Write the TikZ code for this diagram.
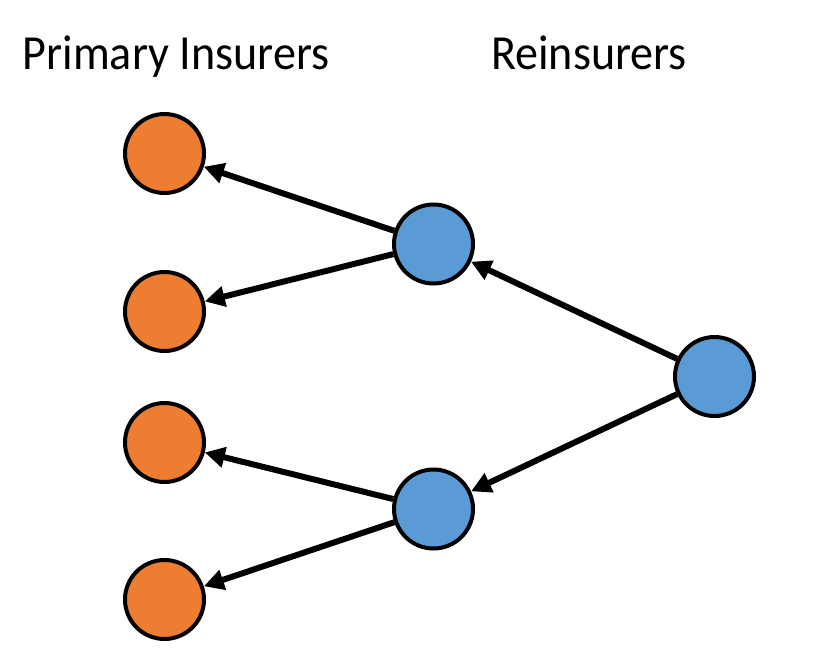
\documentclass[tikz,border=0pt]{standalone}
\usepackage{fontspec}
\setmainfont{Carlito}
\usetikzlibrary{arrows.meta}
\definecolor{orng}{HTML}{ED7D31}
\definecolor{blu}{HTML}{5B9BD5}
\begin{document}
\begin{tikzpicture}[x=1pt,y=-1pt,
  pnode/.style={circle,draw=black,line width=4pt,fill=orng,minimum size=79pt,inner sep=0pt},
  rnode/.style={circle,draw=black,line width=4pt,fill=blu,minimum size=79pt,inner sep=0pt},
  conn/.style={line width=6pt,-{Triangle[length=20pt,width=20pt]}},
  lbl/.style={font=\fontsize{49}{60}\selectfont,anchor=base}]
\useasboundingbox (0,0) rectangle (830,664);
\node[lbl] (tp) at (176,69) {\scalebox{0.94}[1]{Primary Insurers}};
\node[lbl] (tr) at (589,69) {\scalebox{0.94}[1]{Reinsurers}};
\node[pnode] (p1) at (164.5,153.5) {};
\node[pnode] (p2) at (164.5,311.5) {};
\node[pnode] (p3) at (164.5,442.5) {};
\node[pnode] (p4) at (164.5,599.5) {};
\node[rnode] (r1) at (433.5,244) {};
\node[rnode] (r2) at (433.5,509) {};
\node[rnode] (r0) at (714.5,376.5) {};
\draw[conn] (r1) -- (p1);
\draw[conn] (r1) -- (p2);
\draw[conn] (r2) -- (p3);
\draw[conn] (r2) -- (p4);
\draw[conn] (r0) -- (r1);
\draw[conn] (r0) -- (r2);
\end{tikzpicture}
\end{document}
